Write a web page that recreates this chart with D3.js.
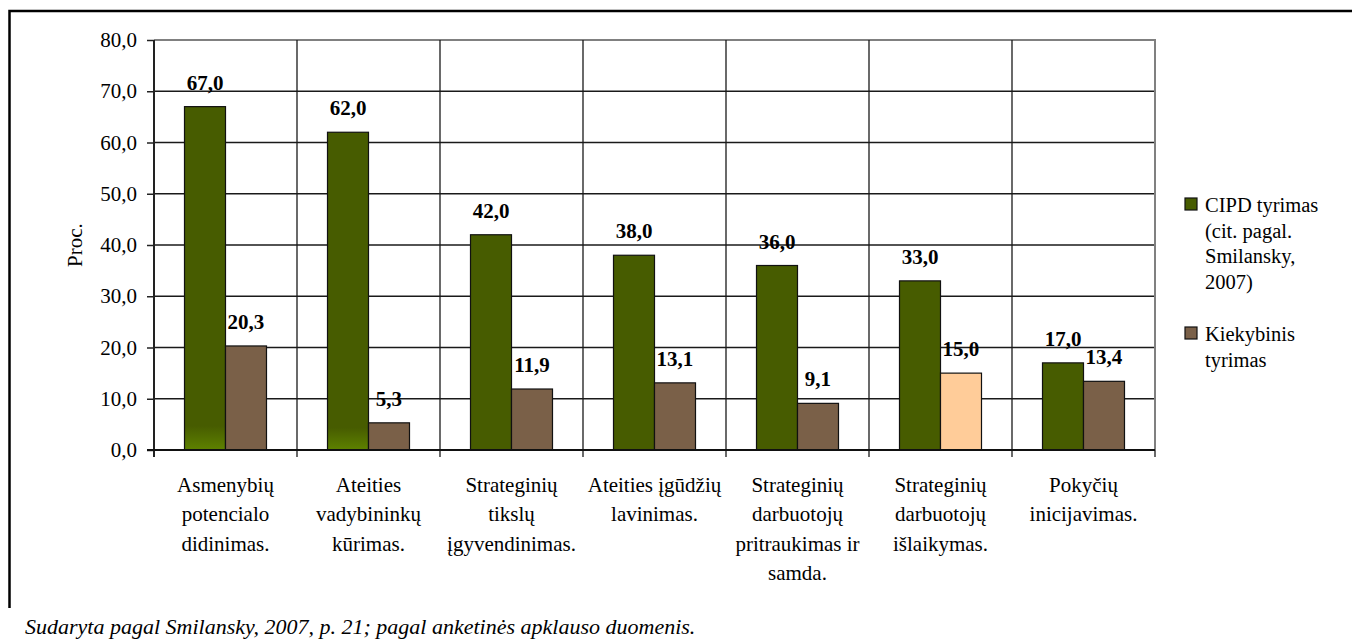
<!DOCTYPE html>
<html>
<head>
<meta charset="utf-8">
<script src="https://cdn.jsdelivr.net/npm/d3@7"></script>
<style>
  html, body { margin: 0; padding: 0; background: #fff; }
  svg { display: block; }
  svg text, svg tspan { font-family: 'Liberation Serif', 'Times New Roman', serif !important; }
</style>
</head>
<body>
<svg id="chart" width="1352" height="639"></svg>
<script>
// Category labels (one entry per line of the wrapped label)
const categoryLines = [
  ["Asmenybių", "potencialo", "didinimas."],
  ["Ateities", "vadybininkų", "kūrimas."],
  ["Strateginių", "tikslų", "įgyvendinimas."],
  ["Ateities įgūdžių", "lavinimas."],
  ["Strateginių", "darbuotojų", "pritraukimas ir", "samda."],
  ["Strateginių", "darbuotojų", "išlaikymas."],
  ["Pokyčių", "inicijavimas."]
];
// Percentages per series
const cipdValues = [67.0, 62.0, 42.0, 38.0, 36.0, 33.0, 17.0];
const kiekybinisValues = [20.3, 5.3, 11.9, 13.1, 9.1, 15.0, 13.4];
const seriesNames = ["CIPD tyrimas", "Kiekybinis tyrimas"];
const legendLines = [
  ["CIPD tyrimas", "(cit. pagal.", "Smilansky,", "2007)"],
  ["Kiekybinis", "tyrimas"]
];
const yTicks = [0, 10, 20, 30, 40, 50, 60, 70, 80];
const yTitle = "Proc.";
const caption = "Sudaryta pagal Smilansky, 2007, p. 21; pagal anketinės apklauso duomenis.";

const FONT = "'Liberation Serif', 'Times New Roman', serif";
const GREEN = "#475c00", BROWN = "#7a6048", PEACH = "#ffcc99";
const fmt = v => d3.format(".1f")(v).replace(".", ",");

const svg = d3.select("#chart").style("font-family", FONT);
const plot = { left: 154, right: 1155, top: 40, bottom: 450 };

const x = d3.scaleBand().domain(d3.range(categoryLines.length))
  .range([plot.left, plot.right]).padding(0);
const xs = d3.scaleBand().domain([0, 1]).range([0, x.bandwidth()])
  .paddingInner(0).paddingOuter(0.744);
const y = d3.scaleLinear().domain([0, 80]).range([plot.bottom, plot.top]);

// gradient for the lower end of the tallest green bars
const defs = svg.append("defs");
const grad = defs.append("linearGradient").attr("id", "greenFade")
  .attr("x1", 0).attr("y1", 0).attr("x2", 0).attr("y2", 1);
grad.append("stop").attr("offset", "0%").attr("stop-color", GREEN);
grad.append("stop").attr("offset", "93%").attr("stop-color", GREEN);
grad.append("stop").attr("offset", "100%").attr("stop-color", "#5e8200");

// outer frame
svg.append("path").attr("d", "M9.5,608 V11 H1352")
  .attr("fill", "none").attr("stroke", "#000").attr("stroke-width", 2.5);

// horizontal gridlines
svg.append("g").selectAll("line").data(yTicks.filter(t => t > 0)).join("line")
  .attr("x1", plot.left).attr("x2", plot.right)
  .attr("y1", d => y(d)).attr("y2", d => y(d))
  .attr("stroke", d => d === 80 ? "#808080" : "#1a1a1a")
  .attr("stroke-width", d => d === 80 ? 2 : 1.3);

// vertical separators between categories
const bounds = d3.range(1, categoryLines.length).map(i => x(i));
svg.append("g").selectAll("line").data(bounds).join("line")
  .attr("x1", d => d).attr("x2", d => d)
  .attr("y1", plot.top).attr("y2", plot.bottom + 7)
  .attr("stroke", "#1a1a1a").attr("stroke-width", 1.3);

// right border of plot area
svg.append("line").attr("x1", plot.right).attr("x2", plot.right)
  .attr("y1", plot.top - 1).attr("y2", plot.bottom)
  .attr("stroke", "#808080").attr("stroke-width", 2);
svg.append("line").attr("x1", plot.right).attr("x2", plot.right)
  .attr("y1", plot.bottom).attr("y2", plot.bottom + 7)
  .attr("stroke", "#1a1a1a").attr("stroke-width", 1.3);

// bars
const rows = categoryLines.map((c, i) => ({ i, values: [cipdValues[i], kiekybinisValues[i]] }));
const groups = svg.append("g").selectAll("g").data(rows).join("g")
  .attr("transform", d => `translate(${x(d.i)},0)`);

groups.selectAll("rect").data(d => d.values.map((v, s) => ({ v, s, i: d.i }))).join("rect")
  .attr("x", d => xs(d.s))
  .attr("width", xs.bandwidth())
  .attr("y", d => y(d.v))
  .attr("height", d => y(0) - y(d.v))
  .attr("fill", d => d.s === 0 ? (d.i < 2 ? "url(#greenFade)" : GREEN) : (d.i === 5 ? PEACH : BROWN))
  .attr("stroke", "#111").attr("stroke-width", 1.2);

groups.selectAll("text.val").data(d => d.values.map((v, s) => ({ v, s }))).join("text")
  .attr("class", "val")
  .attr("x", d => xs(d.s) + xs.bandwidth() / 2)
  .attr("y", d => y(d.v) - 17)
  .attr("text-anchor", "middle")
  .style("font-family", FONT)
  .attr("font-size", 21).attr("font-weight", "bold")
  .text(d => fmt(d.v));

// axes
const yAxis = d3.axisLeft(y).tickValues(yTicks).tickFormat(fmt).tickSize(7).tickPadding(10);
const gy = svg.append("g").attr("transform", `translate(${plot.left},0)`).call(yAxis);
gy.select(".domain").attr("stroke", "#222").attr("stroke-width", 2)
  .attr("d", `M0,${plot.top}V${plot.bottom + 7}`);
gy.selectAll(".tick line").attr("stroke", "#222").attr("stroke-width", 1.5);
gy.selectAll(".tick text").attr("font-size", 21)
  .style("font-family", FONT).attr("fill", "#000");

svg.append("line").attr("x1", plot.left - 7).attr("x2", plot.right)
  .attr("y1", plot.bottom).attr("y2", plot.bottom)
  .attr("stroke", "#111").attr("stroke-width", 2);

// category labels
const xl = svg.append("g").selectAll("text").data(categoryLines).join("text")
  .attr("text-anchor", "middle").attr("font-size", 21).style("font-family", FONT)
  .attr("transform", (d, i) => `translate(${x(i) + x.bandwidth() / 2},0)`);
xl.selectAll("tspan").data(d => d).join("tspan")
  .attr("x", 0).attr("y", (d, k) => 492 + k * 29.3)
  .style("font-family", FONT).text(d => d);

// y title
svg.append("text").attr("transform", "translate(82,245) rotate(-90)")
  .attr("text-anchor", "middle").attr("font-size", 21).style("font-family", FONT)
  .text(yTitle);

// legend
const legendTop = [198, 327];
const lg = svg.append("g").selectAll("g").data(seriesNames).join("g")
  .attr("transform", (d, i) => `translate(1185,${legendTop[i]})`);
lg.append("rect").attr("width", 12).attr("height", 12)
  .attr("fill", (d, i) => i === 0 ? GREEN : BROWN)
  .attr("stroke", "#111").attr("stroke-width", 1.2);
lg.append("text").attr("font-size", 20.5).style("font-family", FONT)
  .selectAll("tspan").data((d, i) => legendLines[i]).join("tspan")
  .attr("x", 20).attr("y", (d, k) => 14 + k * 25.5)
  .style("font-family", FONT).text(d => d);

// source note
svg.append("text").attr("x", 25).attr("y", 634)
  .style("font-family", FONT)
  .attr("font-size", 22).attr("font-style", "italic").text(caption);
</script>
</body>
</html>
